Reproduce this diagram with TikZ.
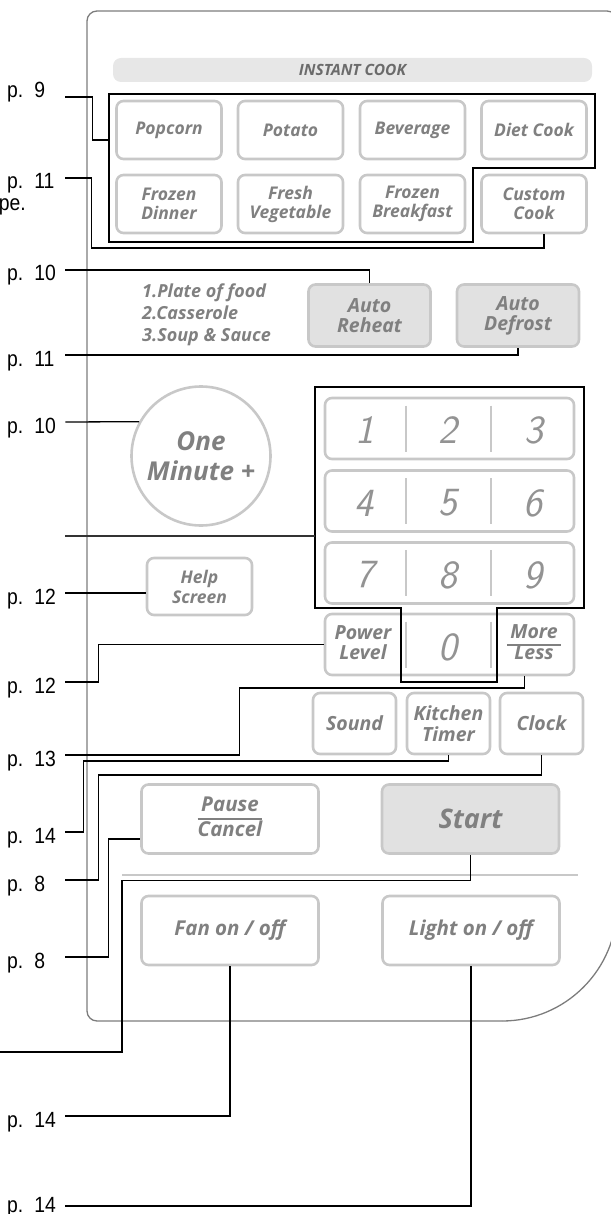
\documentclass[tikz,border=0pt]{standalone}
\usepackage{fontspec}
\newfontfamily\btnfont{Open Sans}
\newfontfamily\pgfont[FakeStretch=0.88]{Liberation Sans}
\definecolor{keyline}{HTML}{C8C8C8}
\definecolor{keyfill}{HTML}{E1E1E1}
\definecolor{keytext}{HTML}{808080}
\definecolor{barfill}{HTML}{E7E7E7}
\definecolor{bartext}{HTML}{6B6B6B}
\definecolor{panelline}{HTML}{7C7C7C}
\setlength\arrayrulewidth{1.3pt}
\begin{document}
\begin{tikzpicture}[x=1pt,y=-1pt,
  btn/.style={draw=keyline,line width=2.6pt,rounded corners=7pt,fill=white,
    text=keytext,inner sep=0pt,align=center,
    font=\btnfont\bfseries\itshape\fontsize{17.5}{19}\selectfont},
  cookbtn/.style={btn,minimum width=105pt,minimum height=58pt},
  autobtn/.style={btn,fill=keyfill,minimum width=122pt,minimum height=62pt,
    font=\btnfont\bfseries\itshape\fontsize{19.5}{20}\selectfont},
  rowbtn/.style={btn,minimum width=249pt,minimum height=61pt},
  smallbtn/.style={btn,minimum width=83pt,minimum height=61pt,
    font=\btnfont\bfseries\itshape\fontsize{19.5}{21}\selectfont},
  widebtn/.style={btn,minimum width=177pt,minimum height=69pt,
    font=\btnfont\bfseries\itshape\fontsize{20.5}{24}\selectfont},
  bar/.style={fill=barfill,rounded corners=8pt,minimum width=479pt,
    minimum height=24pt,inner sep=0pt,text=bartext,
    font=\btnfont\bfseries\itshape\fontsize{15.5}{15.5}\selectfont},
  keytxt/.style={text=keytext,inner sep=0pt,align=center,
    font=\btnfont\bfseries\itshape\fontsize{19.5}{20}\selectfont},
  digit/.style={text=keytext!85,inner sep=0pt,
    font=\sffamily\slshape\fontsize{40}{40}\selectfont},
  divline/.style={draw=keyline,line width=2.2pt},
  pglabel/.style={anchor=west,inner sep=0pt,text width=58pt,align=left,
    text height=22pt,text depth=0pt,font=\pgfont\fontsize{22}{22}\selectfont},
  leader/.style={draw=black,line width=1.3pt},
  blankline/.style={draw=black!80,line width=2pt},
  groupbox/.style={draw=black,line width=1.8pt},
]
\useasboundingbox (0,0) rectangle (610,1214);

\draw[draw=panelline,line width=1.3pt,rounded corners=10pt]
  (617,906) -- (617,11) -- (87,11) -- (87,1021) -- (502,1021);
\draw[draw=panelline,line width=1.3pt]
  (502,1021) .. controls (565.5,1021) and (617,969.5) .. (617,906);

\node[bar] (Instant) at (352.5,70) {INSTANT COOK};

\node[cookbtn] (Popcorn)      at (169,130)   {Popcorn};
\node[cookbtn] (Potato)       at (290.5,130) {Potato};
\node[cookbtn] (Beverage)     at (412.5,130) {Beverage};
\node[cookbtn] (DietCook)     at (534,130)   {Diet Cook};
\node[cookbtn] (FrozenDinner) at (169,204)   {Frozen\\Dinner};
\node[cookbtn] (FreshVeg)     at (290.5,204) {Fresh\\Vegetable};
\node[cookbtn] (FrozenBreak)  at (412.5,204) {Frozen\\Breakfast};
\node[cookbtn] (CustomCook)   at (534,204)   {Custom\\Cook};
\draw[groupbox] (109,94) -- (595,94) -- (595,168) -- (473,168)
  -- (473,242) -- (109,242) -- cycle;

\node[autobtn] (Reheat)  at (369.5,315.5) {Auto\\Reheat};
\node[autobtn] (Defrost) at (518,315.5)   {Auto\\Defrost};
\node[keytxt,anchor=west,align=left,font=\btnfont\bfseries\itshape\fontsize{18}{22}\selectfont]
  (Menu) at (142,315) {1.Plate of food\\2.Casserole\\3.Soup \& Sauce};

\node[draw=keyline,line width=2.6pt,circle,minimum size=139pt,inner sep=0pt,
  text=keytext,align=center,font=\btnfont\bfseries\itshape\fontsize{26}{30}\selectfont]
  (Minute) at (201,456) {One\\Minute +};
\node[btn,minimum width=105pt,minimum height=57pt,
  font=\btnfont\bfseries\itshape\fontsize{17.5}{20}\selectfont] (Help) at (199.5,586.5) {Help\\Screen};

\node[rowbtn] (R1) at (449.5,428.5) {};
\node[rowbtn] (R2) at (449.5,501)   {};
\node[rowbtn] (R3) at (449.5,573)   {};
\node[rowbtn] (R4) at (449.5,644.5) {};
\foreach \y in {428.5,501,573,644.5}
  \foreach \x in {406,491}
    \draw[divline] (\x,\y-23) -- (\x,\y+23);
\foreach \d/\x/\y in {1/365/430,2/448/430,3/534/430,
                      4/364/503,5/448/503,6/533/503,
                      7/365/575,8/448/575,9/533/575}
  \node[digit] (K\d) at (\x,\y) {\d};
\node[keytxt] (Power) at (363,643) {Power\\Level};
\node[digit] (K0) at (448,647) {0};
\node[keytxt] (MoreLess) at (534,645)
  {\begin{tabular}{@{\hspace{3pt}}c@{\hspace{3pt}}}More\\\hline Less\end{tabular}};
\draw[groupbox] (315,387) -- (584,387) -- (584,608) -- (497,608)
  -- (497,682) -- (401,682) -- (401,608) -- (315,608) -- cycle;

\node[smallbtn] (Sound)   at (354.5,723.5) {Sound};
\node[smallbtn] (Kitchen) at (448.5,723.5) {Kitchen\\Timer};
\node[smallbtn] (Clock)   at (541.5,723.5) {Clock};

\node[widebtn] (Pause) at (230,819)
  {\begin{tabular}{@{}c@{}}Pause\\\hline Cancel\end{tabular}};
\node[widebtn,fill=keyfill,font=\btnfont\bfseries\itshape\fontsize{27}{27}\selectfont]
  (Start) at (470.5,819) {Start};
\draw[draw=keyline,line width=1.5pt] (122,875) -- (578,875);
\node[widebtn] (Fan)   at (230,930.5) {Fan on / off};
\node[widebtn] (Light) at (471,930.5) {Light on / off};

\node[pglabel,text depth=20pt] (P9) at (7,97) {p. 9};
\node[pglabel] (P11a) at (7,178)  {p. 11};
\node[inner sep=0pt,anchor=base east,font=\pgfont\fontsize{22}{22}\selectfont]
  (TypeCut) at (26,211) {pe.};
\node[pglabel] (P10a) at (7,270)  {p. 10};
\node[pglabel] (P11b) at (7,355)  {p. 11};
\node[pglabel] (P10b) at (7,422)  {p. 10};
\node[pglabel] (P12a) at (7,593)  {p. 12};
\node[pglabel] (P12b) at (7,682)  {p. 12};
\node[pglabel] (P13)  at (7,755)  {p. 13};
\node[pglabel] (P14a) at (7,832)  {p. 14};
\node[pglabel] (P8a)  at (7,880)  {p. 8};
\node[pglabel] (P8b)  at (7,957)  {p. 8};
\node[pglabel] (P14b) at (7,1116) {p. 14};
\node[pglabel,text height=12pt] (P14c) at (7,1206) {p. 14};

\coordinate (F9)    at (109,140);
\coordinate (Blank) at (65,536);
\coordinate (KeyW)  at (315,536);
\coordinate (SBend) at (122,1052);
\coordinate (SEnd)  at (-5,1052);

\draw[leader] (P9.east) -- ++(27,0) |- (F9);
\draw[leader] (P11a.east) -- ++(26,0) -- ++(0,70) -| ([xshift=10pt]CustomCook.south);
\draw[leader] (P10a.east) -| (Reheat.north);
\draw[leader] (P11b.east) -| (Defrost.south);
\draw[leader] (P10b.east) -- (Minute.151);
\draw[blankline] (Blank) -- (KeyW);
\draw[leader] (P12a.east) -- (P12a.east -| Help.west);
\draw[leader] (P12b.east) -- ++(33,0) |- (R4.west);
\draw[leader] (P13.east) -- ++(174,0) -- ++(0,-67) -| ([xshift=-51pt]R4.south east);
\draw[leader] (P14a.east) -- ++(18,0) -- ++(0,-71) -| (Kitchen.south);
\draw[leader] (P8a.east) -- ++(33,0) -- ++(0,-105) -| (Clock.south);
\draw[leader] (P8b.east) -- ++(43,0) |- ([yshift=-20pt]Pause.west);
\draw[leader] (Start.south) -- ++(0,26) -| (SBend) -- (SEnd);
\draw[leader] (P14b.east) -| (Fan.south);
\draw[leader] (P14c.east) -| (Light.south);
\end{tikzpicture}
\end{document}
